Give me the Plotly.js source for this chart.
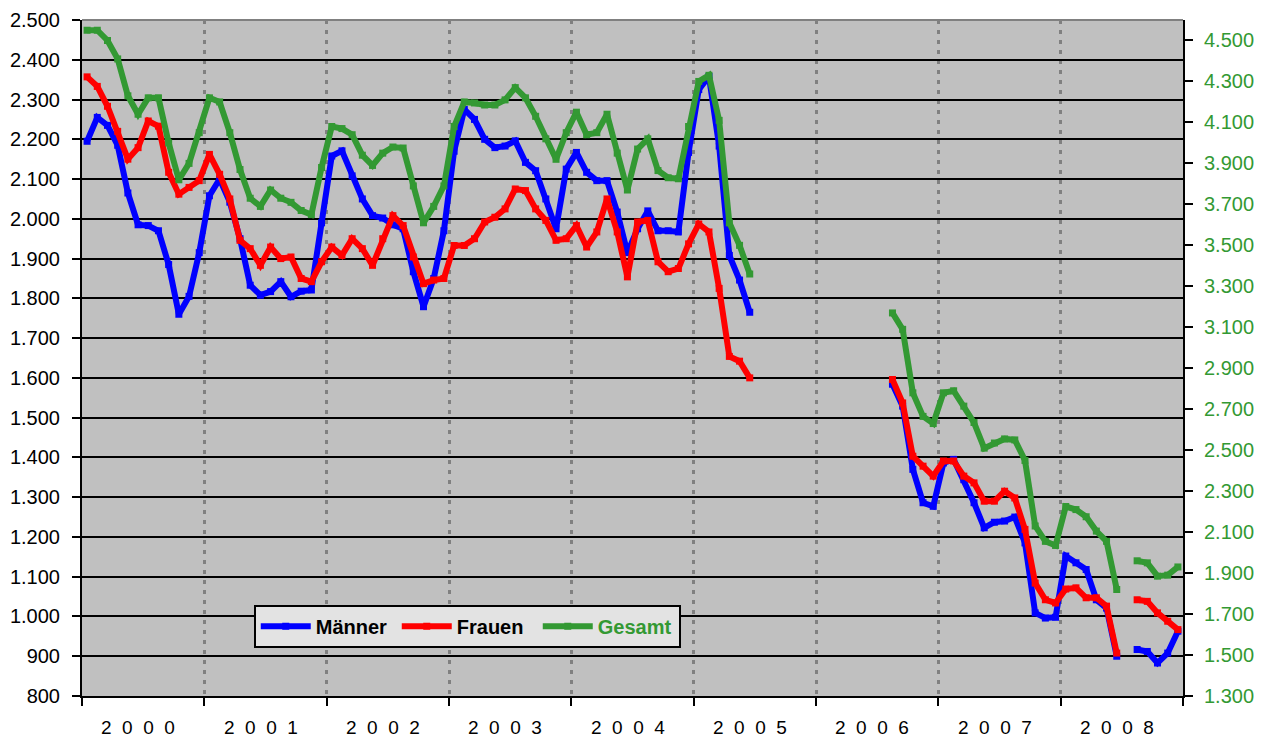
<!DOCTYPE html>
<html>
<head>
<meta charset="utf-8">
<script src="https://cdn.plot.ly/plotly-3.0.1.min.js"></script>
<style>
html,body{margin:0;padding:0;background:#fff;}
#chart{width:1265px;height:738px;}
</style>
</head>
<body>
<div id="chart"></div>
<script>
// Monthly values Jan 2000 – Dec 2008 (null = no data)
const years = ['2000','2001','2002','2003','2004','2005','2006','2007','2008'];

const maenner = [
  2195, 2255, 2235, 2185, 2065, 1985, 1983, 1970, 1885, 1760, 1805, 1915,
  2058, 2100, 2042, 1950, 1833, 1808, 1817, 1842, 1804, 1818, 1821, 1990,
  2158, 2171, 2108, 2050, 2008, 2002, 1985, 1975, 1867, 1779, 1850, 1970,
  2170, 2275, 2250, 2200, 2179, 2183, 2196, 2142, 2121, 2050, 1975, 2125,
  2167, 2117, 2096, 2096, 2017, 1915, 1975, 2020, 1970, 1970, 1967, 2167,
  2325, 2358, 2183, 1908, 1846, 1765, null, null, null, null, null, null,
  null, null, null, null, null, null, null, 1584, 1529, 1370, 1286, 1277,
  1386, 1395, 1344, 1286, 1223, 1237, 1240, 1250, 1185, 1009, 996, 998,
  1152, 1135, 1118, 1042, 1021, 900, null, 917, 912, 883, 908, 963
];

const frauen = [
  2357, 2333, 2283, 2220, 2150, 2179, 2246, 2233, 2117, 2062, 2079, 2096,
  2162, 2112, 2050, 1946, 1925, 1883, 1929, 1900, 1904, 1850, 1842, 1892,
  1929, 1908, 1950, 1925, 1883, 1950, 2008, 1983, 1904, 1837, 1846, 1850,
  1933, 1933, 1950, 1992, 2004, 2025, 2075, 2071, 2025, 1996, 1946, 1950,
  1983, 1929, 1967, 2050, 1967, 1854, 1992, 1996, 1892, 1867, 1875, 1937,
  1987, 1967, 1825, 1654, 1642, 1600, null, null, null, null, null, null,
  null, null, null, null, null, null, null, 1596, 1537, 1403, 1378, 1353,
  1391, 1391, 1353, 1336, 1290, 1290, 1315, 1298, 1219, 1084, 1042, 1034,
  1069, 1072, 1047, 1047, 1026, 908, null, 1042, 1038, 1009, 988, 967
];

const gesamt = [
  4550, 4550, 4500, 4410, 4230, 4140, 4220, 4220, 4000, 3820, 3900, 4050,
  4220, 4200, 4050, 3870, 3730, 3690, 3770, 3730, 3710, 3670, 3650, 3880,
  4080, 4070, 4040, 3940, 3890, 3950, 3980, 3975, 3790, 3610, 3690, 3790,
  4080, 4200, 4195, 4185, 4185, 4210, 4270, 4220, 4130, 4020, 3920, 4050,
  4150, 4040, 4050, 4140, 3950, 3770, 3970, 4020, 3865, 3830, 3825, 4080,
  4300, 4330, 4110, 3610, 3500, 3360, null, null, null, null, null, null,
  null, null, null, null, null, null, null, 3170, 3090, 2780, 2665, 2630,
  2780, 2790, 2715, 2635, 2510, 2535, 2555, 2550, 2450, 2130, 2055, 2035,
  2225, 2210, 2175, 2105, 2055, 1820, null, 1960, 1950, 1885, 1890, 1930
];

const seriesNames = ['Männer', 'Frauen', 'Gesamt'];
const colors = ['#0000FF', '#FF0000', '#339933'];

const nMonths = years.length * 12;
const x = Array.from({length: nMonths}, (_, i) => i);
const yearBounds = Array.from({length: years.length + 1}, (_, k) => k * 12 - 0.5);
const yearMids = years.map((_, k) => k * 12 + 5.5);

const font = 'Liberation Sans, Arial, Helvetica, sans-serif';

function mk(name, y, color, axis) {
  return {
    type: 'scatter', mode: 'lines+markers', x: x, y: y, name: name, yaxis: axis,
    line: {color: color, width: 6},
    marker: {symbol: 'square', size: 7, color: color, line: {width: 0}},
    connectgaps: false, hoverinfo: 'x+y'
  };
}

const data = [
  mk(seriesNames[0], maenner, colors[0], 'y'),
  mk(seriesNames[1], frauen, colors[1], 'y'),
  mk('<span style="color:#339933">' + seriesNames[2] + '</span>', gesamt, colors[2], 'y2')
];

const spaced = s => s.split('').join('\u00A0\u00A0');

const layout = {
  width: 1265, height: 738,
  margin: {l: 82, r: 82, t: 20, b: 42, pad: 0},
  paper_bgcolor: '#FFFFFF',
  plot_bgcolor: '#C0C0C0',
  separators: ',.',
  font: {family: font, size: 20, color: '#000'},
  showlegend: true,
  legend: {
    orientation: 'h', x: 0.156, y: 0.135, xanchor: 'left', yanchor: 'top',
    bgcolor: '#E3E3E3', bordercolor: '#000', borderwidth: 2,
    font: {family: font, size: 20, color: '#000', weight: 'bold'},
    itemwidth: 50, tracegroupgap: 0,
    entrywidth: 76, entrywidthmode: 'pixels'
  },
  xaxis: {
    range: [-0.5, nMonths - 0.5], fixedrange: true,
    tickmode: 'array', tickvals: yearBounds, ticktext: yearBounds.map(() => ''),
    ticks: 'outside', ticklen: 8, tickwidth: 2, tickcolor: '#000',
    showgrid: true, gridcolor: '#808080', gridwidth: 3, griddash: '4px,6px',
    showline: true, linecolor: '#000', linewidth: 2, zeroline: false
  },
  yaxis: {
    range: [800, 2500], tick0: 800, dtick: 100, tickformat: ',d',
    ticks: 'outside', ticklen: 8, tickwidth: 2, tickcolor: '#000',
    ticklabelstandoff: 8,
    showgrid: true, gridcolor: '#000', gridwidth: 2,
    showline: true, linecolor: '#000', linewidth: 2, zeroline: false,
    tickfont: {family: font, size: 20, color: '#000'}
  },
  yaxis2: {
    overlaying: 'y', side: 'right',
    range: [1300, 4600], tick0: 1300, dtick: 200, tickformat: ',d',
    ticks: 'outside', ticklen: 8, tickwidth: 2, tickcolor: '#000',
    ticklabelstandoff: 7,
    showgrid: false, showline: true, linecolor: '#000', linewidth: 2, zeroline: false,
    tickfont: {family: font, size: 20, color: '#339933'}
  },
  shapes: [{
    type: 'line', xref: 'paper', yref: 'paper', x0: 0, x1: 1, y0: 1, y1: 1,
    line: {color: '#808080', width: 2}
  }],
  annotations: years.map((yr, k) => ({
    x: yearMids[k], xref: 'x', y: 0, yref: 'paper', yanchor: 'middle', yshift: -31, xshift: -5,
    text: spaced(yr), showarrow: false,
    font: {family: font, size: 19, color: '#000'}
  }))
};

Plotly.newPlot('chart', data, layout, {displayModeBar: false, staticPlot: true});
</script>
</body>
</html>
